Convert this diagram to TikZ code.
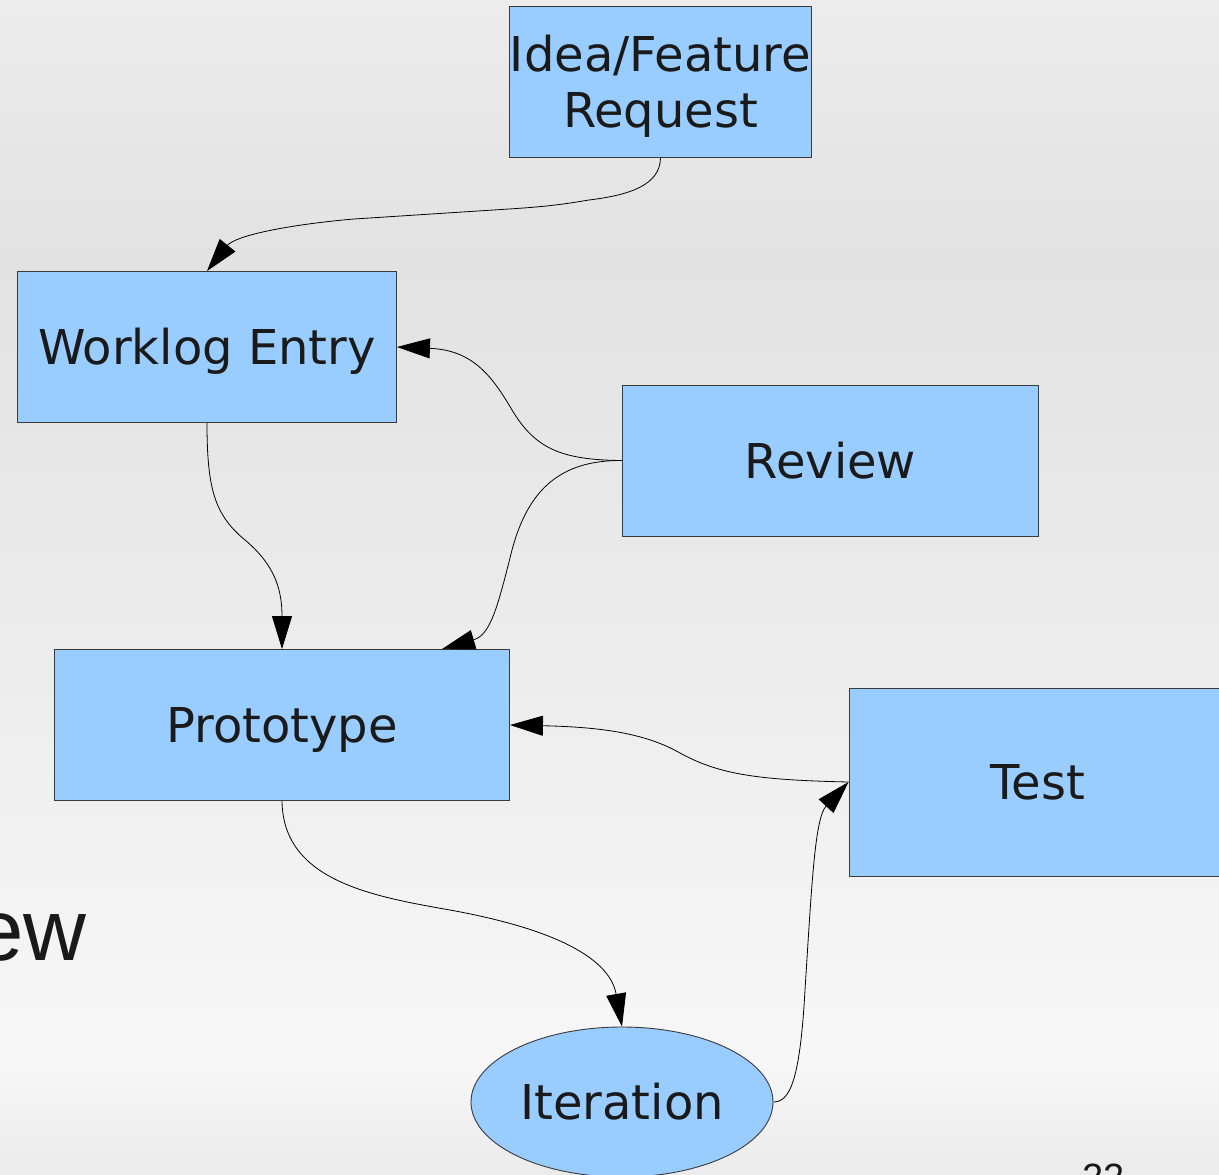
\documentclass[tikz,border=0pt]{standalone}
\usepackage{fontspec}
\setmainfont{DejaVu Sans}
\newfontfamily\slidefont{Liberation Sans}
\usetikzlibrary{arrows.meta,shapes.geometric}
\definecolor{boxblue}{HTML}{99CCFF}
\definecolor{boxline}{HTML}{3A3A3A}
\definecolor{txt}{HTML}{1A1A1A}
\definecolor{bgA}{HTML}{ECECEC}
\definecolor{bgB}{HTML}{E2E2E2}
\definecolor{bgC}{HTML}{F7F7F7}
\definecolor{bgD}{HTML}{EBEBEB}
\begin{document}
\begin{tikzpicture}[x=1pt,y=-1pt,
  box/.style={draw=boxline, fill=boxblue, line width=0.9pt, inner sep=0pt,
    text=txt, text height=35pt, text depth=0pt, font={\fontsize{48}{56}\selectfont}},
  boxtext/.style={inner sep=0pt, text=txt, anchor=base, font={\fontsize{48}{56}\selectfont}},
  conn/.style={draw=black, line width=0.8pt, -{Triangle[length=33pt,width=20pt]}},
  slide/.style={inner sep=0pt, text=txt}]
\useasboundingbox (0,0) rectangle (1219,1175);
\clip (0,0) rectangle (1219,1175);
\shade[top color=bgA, bottom color=bgB] (0,0) rectangle (1219,261);
\shade[top color=bgB, bottom color=bgC] (0,260) rectangle (1219,1061);
\shade[top color=bgC, bottom color=bgD] (0,1060) rectangle (1219,1175);

\node[slide, anchor=base east, font={\slidefont\fontsize{87}{100}\selectfont}] (ew) at (87,960) {ew};
\node[slide, anchor=base west, font={\slidefont\fontsize{38}{40}\selectfont}] (pg) at (1082,1190) {22};

\node[box, minimum width=302pt, minimum height=151pt] (idea) at (660.5,82) {};
\node[boxtext] (idea1) at (660.5,71.5) {Idea/Feature};
\node[boxtext] (idea2) at (660.5,127.5) {Request};
\node[box, minimum width=379pt, minimum height=151pt] (work) at (207,347) {Worklog Entry};
\node[box, minimum width=416pt, minimum height=151pt] (rev) at (830.5,460.5) {Review};
\node[box, minimum width=455pt, minimum height=151pt] (proto) at (282,725) {Prototype};
\node[box, minimum width=378pt, minimum height=188pt] (test) at (1038,782) {Test};
\node[box, ellipse, minimum width=302pt, minimum height=150pt] (iter) at (622,1102) {Iteration};

\draw[conn] (idea.south) .. controls (660,185) and (630,195) .. (589,200)
  .. controls (560,205) and (540,207) .. (509,209) -- (354,219)
  .. controls (285,225) and (235,236) .. (work.north);
\draw[conn] (rev.west) .. controls (560,460) and (535,448) .. (512,410)
  .. controls (490,372) and (470,350) .. (work.east);
\draw[conn] (rev.west) .. controls (560,460) and (528,490) .. (512,550)
  .. controls (497,610) and (490,635) .. ([xshift=160pt]proto.north);
\draw[conn] (work.south) .. controls (207,490) and (215,515) .. (245,540)
  .. controls (275,565) and (282,590) .. (proto.north);
\draw[conn] (test.west) .. controls (760,780) and (720,775) .. (680,753)
  .. controls (645,733) and (600,727) .. (proto.east);
\draw[conn] (proto.south) .. controls (283,880) and (370,896) .. (450,910)
  .. controls (560,930) and (610,960) .. (iter.north);
\draw[conn] (iter.east) .. controls (790,1102) and (800,1080) .. (805,990)
  .. controls (812,880) and (815,818) .. (test.west);
\end{tikzpicture}
\end{document}
